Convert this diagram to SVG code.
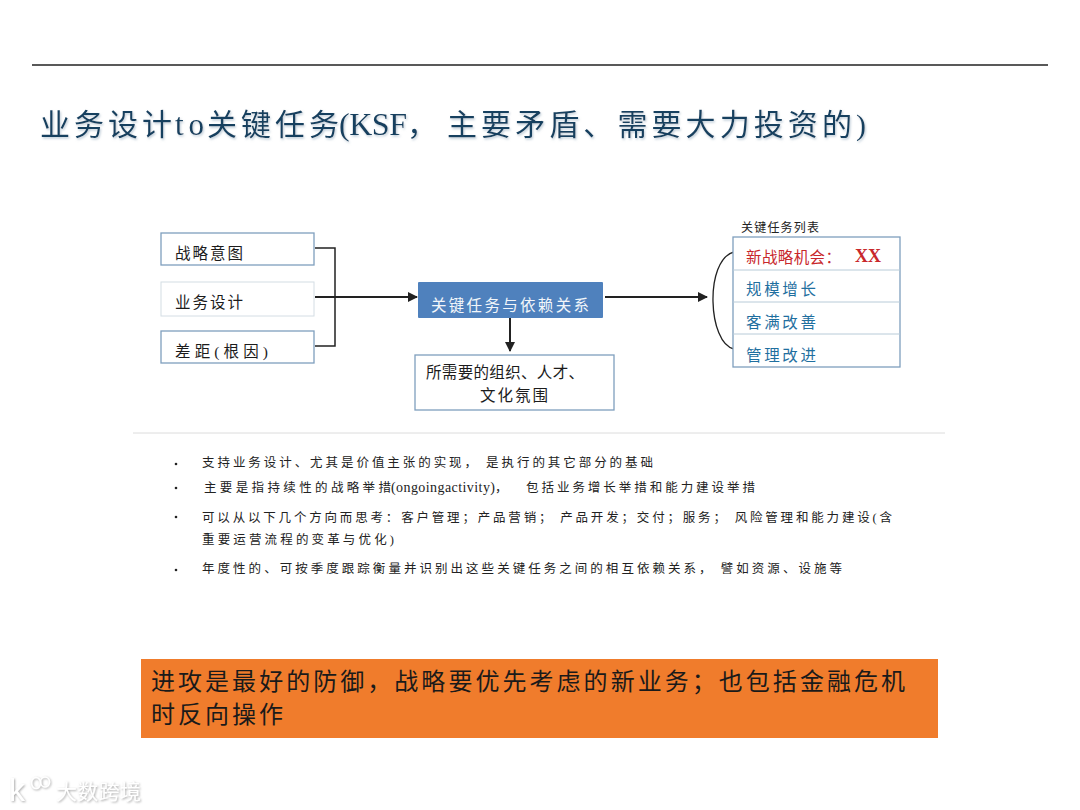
<svg xmlns="http://www.w3.org/2000/svg" width="1080" height="810" viewBox="0 0 1080 810">
<style>
text{font-family:"Liberation Serif","Noto Sans CJK SC",serif;font-weight:400}
.box{fill:#fff;stroke:#7f9fbe;stroke-width:1.3}
.n{font-size:15.5px;fill:#1c1c1c}
.b{font-size:12.5px;fill:#222}
.t{font-size:15.5px;fill:#1f6f9f}
.c{fill:none;stroke:#222;stroke-width:1.5}
.a{fill:none;stroke:#222;stroke-width:2;marker-end:url(#arr)}
.div{stroke:#b8cbd8;stroke-width:1}
</style>
<defs>
<marker id="arr" viewBox="0 0 10 10" refX="9" refY="5" markerWidth="10" markerHeight="10" markerUnits="userSpaceOnUse" orient="auto"><path d="M0 0L10 5L0 10Z" fill="#222"/></marker>
<filter id="soft" x="-20%" y="-40%" width="140%" height="180%"><feDropShadow dx="1" dy="1" stdDeviation="1.2" flood-color="#8a8a8a" flood-opacity=".75"/></filter>
<filter id="ts" x="-5%" y="-30%" width="110%" height="160%"><feDropShadow dx="1" dy="1.5" stdDeviation="1" flood-color="#9fb4c4" flood-opacity=".7"/></filter>
</defs>
<rect width="1080" height="810" fill="#fff"/>
<line x1="32" y1="65" x2="1048" y2="65" stroke="#222" stroke-width="1.5"/>
<g id="title" font-size="30" fill="#123f5e" filter="url(#ts)">
<text x="40" y="135" textLength="132">业务设计</text>
<text x="175" y="135" textLength="29" font-size="31">to</text>
<text x="207" y="135" textLength="132">关键任务</text>
<text x="339" y="135" textLength="68" font-size="32">(KSF</text>
<text x="407" y="135" font-size="30">，</text>
<text x="447" y="135" textLength="419">主要矛盾、需要大力投资的)</text>
</g>

<g id="connectors">
<path class="c" d="M315 248H335V346H315"/>
<path class="a" d="M315 297H417"/>
<path class="a" d="M605 297H707"/>
<path class="a" d="M510 314V351"/>
<path class="c" style="stroke-width:1.3" d="M734 252C704 260 708 344 734 349"/>
</g>

<g id="node-strategy"><rect class="box" x="161" y="233" width="153" height="32"/><text class="n" x="175" y="259" textLength="68">战略意图</text></g>
<g id="node-design"><rect x="161" y="282" width="153" height="34" fill="#fff" stroke="#d4dde4"/><text class="n" x="175" y="308" textLength="68">业务设计</text></g>
<g id="node-gap"><rect class="box" x="161" y="331" width="153" height="32"/><text class="n" x="175" y="357" textLength="93">差距(根因)</text></g>
<g id="node-key"><rect x="418" y="282" width="185" height="36" rx="1" fill="#4f81bd"/><text x="431" y="311" font-size="15.5" fill="#f2f6fa" textLength="158">关键任务与依赖关系</text></g>
<g id="node-org"><rect class="box" x="415" y="355" width="199" height="55"/><text class="n" x="426" y="378" textLength="158">所需要的组织、人才、</text><text class="n" x="480" y="401" textLength="68">文化氛围</text></g>

<g id="node-list">
<text x="741" y="232" font-size="12" fill="#222" textLength="78">关键任务列表</text>
<rect class="box" x="733" y="237" width="167" height="130"/>
<line class="div" x1="733" y1="270" x2="900" y2="270"/>
<line class="div" x1="733" y1="302" x2="900" y2="302"/>
<line class="div" x1="733" y1="334" x2="900" y2="334"/>
<text x="746" y="263" font-size="15.5" fill="#c8282c" textLength="95">新战略机会：</text>
<text x="855" y="262" font-size="18" font-weight="700" fill="#c8282c" style="font-weight:700">XX</text>
<text class="t" x="746" y="295" textLength="70">规模增长</text>
<text class="t" x="746" y="328" textLength="70">客满改善</text>
<text class="t" x="746" y="361" textLength="70">管理改进</text>
</g>

<line x1="133" y1="433" x2="945" y2="433" stroke="#dcdcdc"/>

<g id="bullets">
<circle cx="176" cy="464" r="1.3" fill="#222"/><text class="b" x="202" y="467" textLength="451">支持业务设计、尤其是价值主张的实现， 是执行的其它部分的基础</text>
<circle cx="176" cy="488" r="1.3" fill="#222"/>
<text class="b" x="204" y="492" textLength="187">主要是指持续性的战略举措</text>
<text class="b" x="391" y="492" textLength="104" style="font-size:14px">(ongoingactivity)</text>
<text class="b" x="495" y="492">，</text>
<text class="b" x="526" y="492" textLength="229">包括业务增长举措和能力建设举措</text>
<circle cx="176" cy="517" r="1.3" fill="#222"/><text class="b" x="202" y="522" textLength="690">可以从以下几个方向而思考：客户管理；产品营销； 产品开发；交付；服务； 风险管理和能力建设(含</text>
<text class="b" x="202" y="544" textLength="192">重要运营流程的变革与优化)</text>
<circle cx="176" cy="570" r="1.3" fill="#222"/><text class="b" x="202" y="573" textLength="640">年度性的、可按季度跟踪衡量并识别出这些关键任务之间的相互依赖关系， 譬如资源、设施等</text>
</g>

<g id="banner">
<rect x="141" y="659" width="797" height="79" fill="#f07c2c"/>
<text x="151" y="690" font-size="24" fill="#1a1a1a" textLength="754">进攻是最好的防御，战略要优先考虑的新业务；也包括金融危机</text>
<text x="151" y="723" font-size="24" fill="#1a1a1a" textLength="132">时反向操作</text>
</g>

<g id="watermark" filter="url(#soft)">
<text x="9" y="801" font-size="32" fill="#fff" style="font-family:'Liberation Sans',sans-serif">k</text>
<ellipse cx="36" cy="783" rx="4.5" ry="5.5" fill="none" stroke="#fff" stroke-width="1.6"/>
<ellipse cx="45" cy="782" rx="4.5" ry="5" fill="none" stroke="#fff" stroke-width="1.6"/>
<text x="56" y="799" font-size="21" fill="#fff" textLength="85">大数跨境</text>
</g>
</svg>
